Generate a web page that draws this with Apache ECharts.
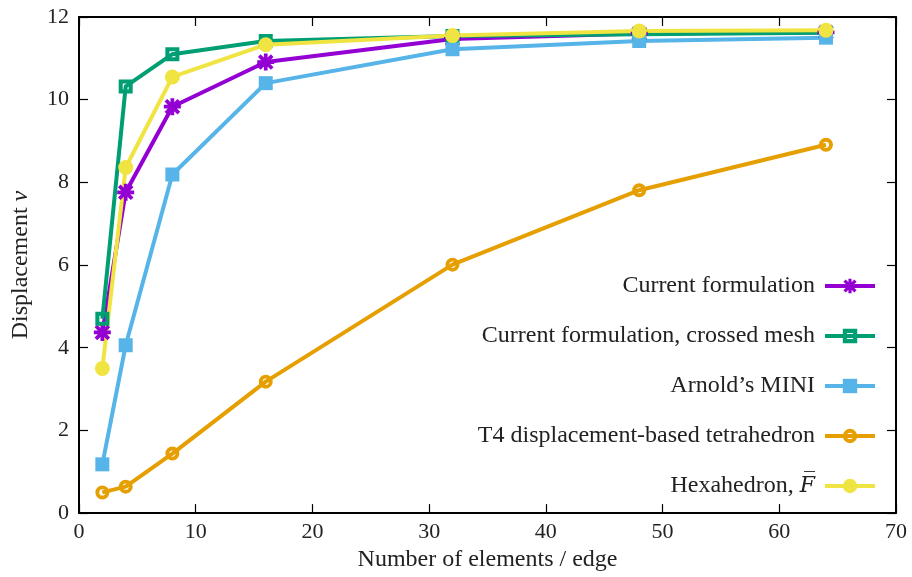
<!DOCTYPE html>
<html>
<head>
<meta charset="utf-8">
<script src="https://cdn.jsdelivr.net/npm/echarts@6/dist/echarts.min.js"></script>
<style>
  html, body { margin: 0; padding: 0; background: #fff; }
  #chart { width: 912px; height: 577px; }
</style>
</head>
<body>
<div id="chart"></div>
<script>
// Mesh refinement: number of elements per edge
const elementsPerEdge = [2, 4, 8, 16, 32, 48, 64];

// Tip displacement v for each formulation
const currentFormulation = [4.37, 7.76, 9.83, 10.91, 11.47, 11.60, 11.63];
const currentCrossed     = [4.70, 10.32, 11.10, 11.42, 11.54, 11.58, 11.62];
const arnoldMini         = [1.18, 4.06, 8.19, 10.40, 11.22, 11.42, 11.50];
const t4Tetrahedron      = [0.50, 0.64, 1.44, 3.18, 6.01, 7.81, 8.91];
const hexahedronFbar     = [3.50, 8.36, 10.55, 11.33, 11.55, 11.66, 11.68];

const seriesNames = [
  'Current formulation',
  'Current formulation, crossed mesh',
  "Arnold\u2019s MINI",
  'T4 displacement-based tetrahedron',
  'Hexahedron, F'
];

const xTicks = { min: 0, max: 70, interval: 10 };
const yTicks = { min: 0, max: 12, interval: 2 };

const FONT = '"Liberation Serif", "DejaVu Serif", serif';

// eight-armed asterisk marker
const asterisk = 'path://M0 39L100 39L100 61L0 61Z M39 0L61 0L61 100L39 100Z ' +
  'M19.78 4.22L95.78 80.22L80.22 95.78L4.22 19.78Z ' +
  'M80.22 4.22L95.78 19.78L19.78 95.78L4.22 80.22Z';
// thick-outlined square and circle (inner hole lets the line show through)
const openSquare = 'path://M0 0L100 0L100 100L0 100Z M29 29L29 71L71 71L71 29Z';
const openCircle = 'path://M0 50A50 50 0 1 1 100 50A50 50 0 1 1 0 50Z ' +
  'M28 50A22 22 0 1 0 72 50A22 22 0 1 0 28 50Z';

const pair = ys => elementsPerEdge.map((x, i) => [x, ys[i]]);

function lineSeries(name, ys, color, symbol, size) {
  return {
    name: name,
    type: 'line',
    data: pair(ys),
    symbol: symbol,
    symbolSize: size,
    lineStyle: { color: color, width: 4 },
    itemStyle: { color: color },
    animation: false
  };
}

const chart = echarts.init(document.getElementById('chart'), null, { renderer: 'canvas' });

const frameAxis = {
  axisLine: { show: true, onZero: false, lineStyle: { color: '#000', width: 2 } },
  axisTick: { show: true, inside: true, length: 9, lineStyle: { color: '#000', width: 1.2 } },
  splitLine: { show: false }
};

chart.setOption({
  backgroundColor: '#fff',
  animation: false,
  grid: { left: 79, right: 16, top: 17, bottom: 56 },
  xAxis: [
    Object.assign({
      type: 'value', position: 'bottom',
      min: xTicks.min, max: xTicks.max, interval: xTicks.interval,
      name: 'Number of elements / edge',
      nameLocation: 'middle', nameGap: 32,
      nameTextStyle: { fontFamily: FONT, fontSize: 24, color: '#222' },
      axisLabel: { fontFamily: FONT, fontSize: 22, color: '#222', margin: 8 }
    }, frameAxis),
    Object.assign({
      type: 'value', position: 'top',
      min: xTicks.min, max: xTicks.max, interval: xTicks.interval,
      axisLabel: { show: false }
    }, frameAxis)
  ],
  yAxis: [
    Object.assign({
      type: 'value', position: 'left',
      min: yTicks.min, max: yTicks.max, interval: yTicks.interval,
      name: '{a|Displacement }{b|v}',
      nameLocation: 'middle', nameGap: 46,
      nameTextStyle: {
        fontFamily: FONT, fontSize: 24, color: '#222',
        rich: {
          a: { fontFamily: FONT, fontSize: 24, color: '#222' },
          b: { fontFamily: FONT, fontSize: 24, color: '#222', fontStyle: 'italic' }
        }
      },
      axisLabel: { fontFamily: FONT, fontSize: 22, color: '#222', margin: 10 }
    }, frameAxis),
    Object.assign({
      type: 'value', position: 'right',
      min: yTicks.min, max: yTicks.max, interval: yTicks.interval,
      axisLabel: { show: false }
    }, frameAxis)
  ],
  legend: {
    orient: 'vertical',
    align: 'right',
    right: 30,
    top: 269,
    itemWidth: 50,
    itemHeight: 18,
    itemGap: 26,
    data: seriesNames,
    lineStyle: { width: 4 },
    formatter: function (name) {
      if (name === 'Hexahedron, F') return '{t|Hexahedron, }{f|F\u0305}';
      return '{t|' + name + '}';
    },
    textStyle: {
      fontFamily: FONT, fontSize: 24, color: '#222', padding: [0, 5, 0, 0],
      rich: {
        t: { fontFamily: FONT, fontSize: 24, color: '#222' },
        f: { fontFamily: '"DejaVu Serif", serif', fontSize: 22, color: '#222', fontStyle: 'italic' }
      }
    }
  },
  series: [
    lineSeries(seriesNames[0], currentFormulation, '#9400d3', asterisk, 17),
    lineSeries(seriesNames[1], currentCrossed, '#009e73', openSquare, 14),
    lineSeries(seriesNames[2], arnoldMini, '#56b4e9', 'rect', 14),
    lineSeries(seriesNames[3], t4Tetrahedron, '#e69f00', openCircle, 14),
    lineSeries(seriesNames[4], hexahedronFbar, '#f0e442', 'circle', 15)
  ]
});
</script>
</body>
</html>
